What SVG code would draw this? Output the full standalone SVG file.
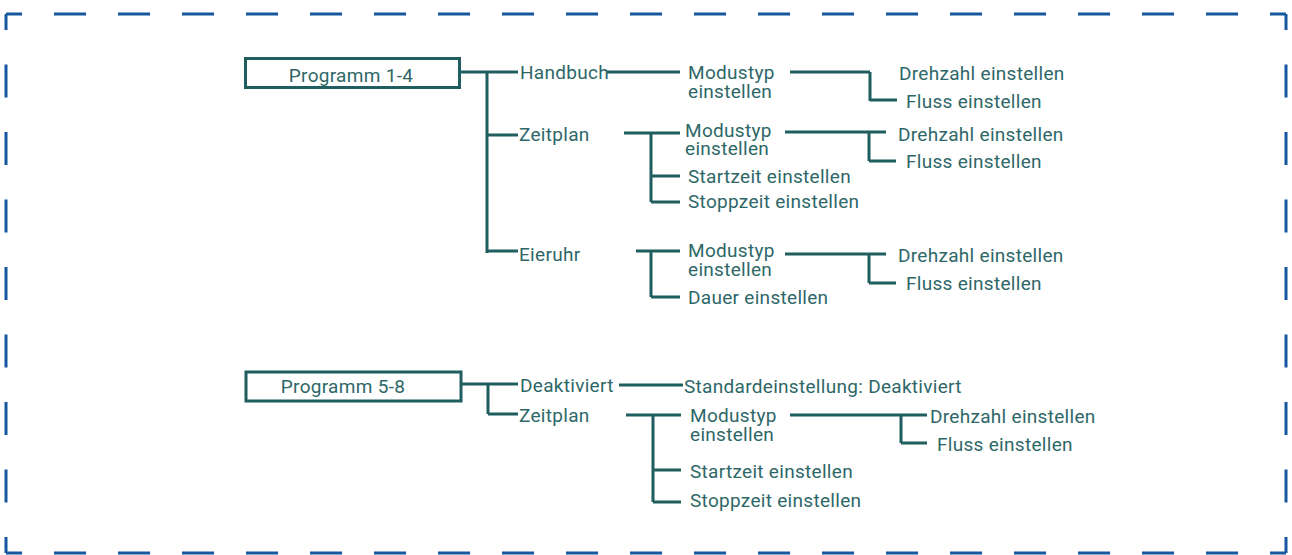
<svg xmlns="http://www.w3.org/2000/svg" width="1292" height="555" viewBox="0 0 1292 555">
<style>
.frame{fill:none;stroke:#1558a0;stroke-width:3}
.h{stroke-dasharray:32 32;stroke-dashoffset:16}
.v{stroke-dasharray:33 34.5;stroke-dashoffset:17}
.c{fill:none;stroke:#1f5d5e;stroke-width:3;stroke-linecap:butt}
.box{fill:#fff;stroke:#1f5d5e;stroke-width:3}
text{font-family:Roboto,"Noto Sans",sans-serif;font-size:19px;letter-spacing:0.3px;fill:#2e6768}
</style>
<rect width="1292" height="555" fill="#fff"/>
<g id="frame">
<line class="frame h" x1="6" y1="14" x2="1286" y2="14"/>
<line class="frame h" x1="6" y1="553" x2="1286" y2="553"/>
<line class="frame v" x1="6" y1="14" x2="6" y2="553"/>
<line class="frame v" x1="1286" y1="14" x2="1286" y2="553"/>
</g>
<g id="connectors">
<path class="c" d="M460 72H487M487 72V253M487 72H518M487 135H518M487 251H518"/>
<path class="c" d="M607 72H680M790 72H870M870 72V101M870 100H897"/>
<path class="c" d="M624 133H680M651 133V202M651 176H680M651 202H680M785 132H886M869 132V161M869 161H896"/>
<path class="c" d="M636 251H680M651 251V297M651 297H680M785 254H886M869 254V283M869 283H896"/>
<path class="c" d="M462 384H488M488 384V414M488 384H518M488 414H518"/>
<path class="c" d="M619 385H683"/>
<path class="c" d="M626 415H681M653 415V502M653 470H681M653 502H681M790 415H927M901 415V443M901 443H927"/>
</g>
<g id="p14"><rect class="box" x="245.5" y="58.5" width="214" height="29"/><text x="351" y="82" text-anchor="middle">Programm 1-4</text></g>
<g id="handbuch"><text x="520" y="79">Handbuch</text></g>
<g id="zeitplan1"><text x="519" y="141">Zeitplan</text></g>
<g id="eieruhr"><text x="519" y="261">Eieruhr</text></g>
<g id="modus1"><text x="688" y="79">Modustyp<tspan x="688" y="98">einstellen</tspan></text></g>
<g id="dreh1"><text x="899" y="80">Drehzahl einstellen</text></g>
<g id="fluss1"><text x="906" y="108">Fluss einstellen</text></g>
<g id="modus2"><text x="685" y="137">Modustyp<tspan x="685" y="155">einstellen</tspan></text></g>
<g id="start1"><text x="688" y="183">Startzeit einstellen</text></g>
<g id="stopp1"><text x="688" y="208">Stoppzeit einstellen</text></g>
<g id="dreh2"><text x="898" y="141">Drehzahl einstellen</text></g>
<g id="fluss2"><text x="906" y="168">Fluss einstellen</text></g>
<g id="modus3"><text x="688" y="257">Modustyp<tspan x="688" y="276">einstellen</tspan></text></g>
<g id="dauer"><text x="688" y="304">Dauer einstellen</text></g>
<g id="dreh3"><text x="898" y="262">Drehzahl einstellen</text></g>
<g id="fluss3"><text x="906" y="290">Fluss einstellen</text></g>
<g id="p58"><rect class="box" x="246" y="372" width="215" height="29"/><text x="343" y="393" text-anchor="middle">Programm 5-8</text></g>
<g id="deakt"><text x="520" y="392">Deaktiviert</text></g>
<g id="zeitplan2"><text x="519" y="422">Zeitplan</text></g>
<g id="standard"><text x="684" y="393">Standardeinstellung: Deaktiviert</text></g>
<g id="modus4"><text x="690" y="422">Modustyp<tspan x="690" y="441">einstellen</tspan></text></g>
<g id="start2"><text x="690" y="478">Startzeit einstellen</text></g>
<g id="stopp2"><text x="690" y="507">Stoppzeit einstellen</text></g>
<g id="dreh4"><text x="930" y="423">Drehzahl einstellen</text></g>
<g id="fluss4"><text x="937" y="451">Fluss einstellen</text></g>
</svg>
